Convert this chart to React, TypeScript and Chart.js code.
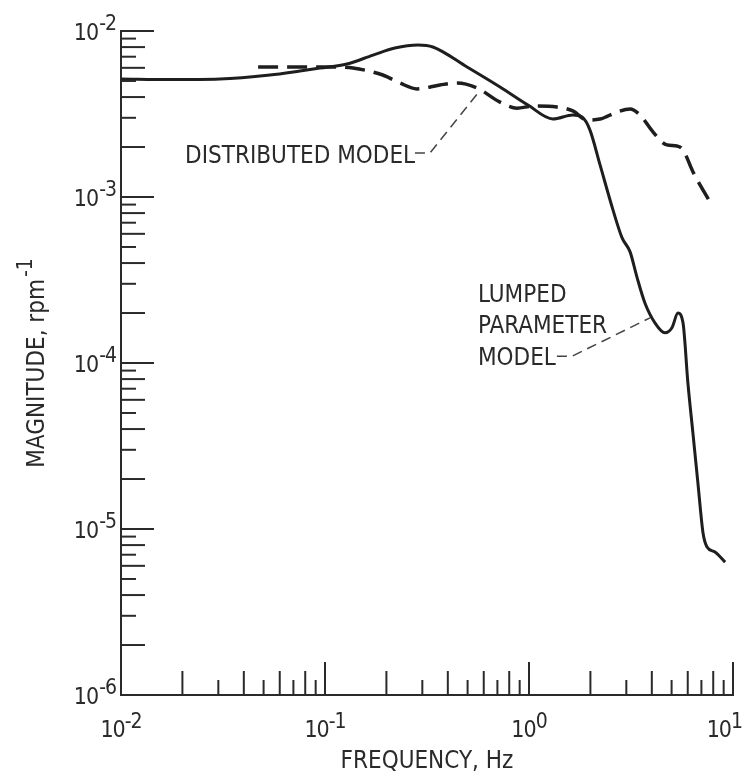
import React, { useEffect, useRef } from "react";
import { Chart, registerables } from "chart.js";

Chart.register(...registerables);

// ---- data (frequency in Hz, magnitude in rpm^-1) ----
const lumpedFreq = [
  0.01, 0.0174, 0.0305, 0.0537, 0.0753, 0.0944, 0.128, 0.172, 0.22, 0.286, 0.338,
  0.497, 0.721, 0.989, 1.31, 1.64, 1.82, 1.99, 2.23, 2.58, 2.86, 3.13, 3.38, 3.7,
  4.15, 4.64, 5.02, 5.37, 5.69, 6.01, 6.36, 6.73, 7.13, 7.46, 8.16, 9.15,
];
const lumpedMag = [
  5.14e-3, 5.1e-3, 5.14e-3, 5.43e-3, 5.74e-3, 5.98e-3, 6.32e-3, 7.16e-3, 7.9e-3, 8.24e-3, 8.01e-3,
  6.07e-3, 4.6e-3, 3.58e-3, 2.95e-3, 3.12e-3, 3.03e-3, 2.53e-3, 1.56e-3, 8.36e-4, 5.67e-4, 4.67e-4,
  3.3e-4, 2.3e-4, 1.74e-4, 1.52e-4, 1.63e-4, 2.0e-4, 1.74e-4, 7.59e-5, 3.79e-5, 1.89e-5, 9.46e-6,
  7.79e-6, 7.27e-6, 6.32e-6,
];
const distFreq = [
  0.047, 0.0753, 0.106, 0.137, 0.192, 0.233, 0.282, 0.366, 0.444, 0.556, 0.721, 0.873, 1.05,
  1.37, 1.64, 1.92, 2.23, 2.7, 3.13, 3.5, 4.05, 4.74, 5.31, 5.69, 6.36, 7.71,
];
const distMag = [
  6.07e-3, 6.07e-3, 6.07e-3, 5.98e-3, 5.43e-3, 4.86e-3, 4.48e-3, 4.73e-3, 4.86e-3, 4.54e-3,
  3.73e-3, 3.43e-3, 3.53e-3, 3.48e-3, 3.3e-3, 2.91e-3, 2.95e-3, 3.25e-3, 3.39e-3, 3.12e-3,
  2.47e-3, 2.06e-3, 2.03e-3, 1.92e-3, 1.42e-3, 9.33e-4,
];

// axis ranges and decade tick exponents
const X_MIN = 0.01;
const X_MAX = 10;
const Y_MIN = 1e-6;
const Y_MAX = 1e-2;
const xDecades = [-2, -1, 0, 1];
const yDecades = [-6, -5, -4, -3, -2];
const minorMults = [2, 3, 4, 5, 6, 7, 8, 9];

// text
const xTitle = "FREQUENCY, Hz";
const yTitle = "MAGNITUDE, rpm";
const yTitleExp = "-1";
const distLabel = "DISTRIBUTED MODEL";
const distLabelAt = [0.0206, 1.6e-3];
const distLeaderX = [0.276, 0.327, 0.562];
const distLeaderY = [1.84e-3, 1.84e-3, 4.23e-3];
const lumpedLabel = ["LUMPED", "PARAMETER", "MODEL"];
const lumpedLabelX = 0.562;
const lumpedLabelY = [2.33e-4, 1.52e-4, 9.72e-5];
const lumpedLeaderX = [1.37, 1.63, 3.92];
const lumpedLeaderY = [1.1e-4, 1.1e-4, 1.87e-4];

const INK = "#2a2a2a";
const FAMILY = "'DejaVu Sans Condensed', 'DejaVu Sans', sans-serif";

const decorPlugin = {
  id: "decor",
  afterDraw(chart: any) {
    const { ctx, chartArea } = chart;
    const xs = chart.scales.x;
    const ys = chart.scales.y;
    const { left, right, top, bottom } = chartArea;
    ctx.save();
    ctx.strokeStyle = INK;
    ctx.fillStyle = INK;
    ctx.lineWidth = 2;
    ctx.lineCap = "butt";
    const lenFor = (m: number) => (m === 1 ? 33 : m % 2 === 0 ? 24 : 15);

    // x ticks (inward, upward)
    for (const e of xDecades) {
      const mults = [1, ...minorMults];
      for (const m of mults) {
        const v = m * Math.pow(10, e);
        if (v < X_MIN * 1.0001 || v > X_MAX * 1.0001) continue;
        const px = xs.getPixelForValue(v);
        ctx.beginPath();
        ctx.moveTo(px, bottom);
        ctx.lineTo(px, bottom - lenFor(m));
        ctx.stroke();
      }
    }
    // y ticks (inward, rightward)
    for (const e of yDecades) {
      const mults = [1, ...minorMults];
      for (const m of mults) {
        const v = m * Math.pow(10, e);
        if (v < Y_MIN * 1.0001 || v > Y_MAX * 1.0001) continue;
        const py = ys.getPixelForValue(v);
        ctx.beginPath();
        ctx.moveTo(left, py);
        ctx.lineTo(left + lenFor(m), py);
        ctx.stroke();
      }
    }

    const baseFont = `23px ${FAMILY}`;
    const expFont = `21px ${FAMILY}`;
    ctx.textBaseline = "alphabetic";
    try { (ctx as any).letterSpacing = "-1px"; } catch (err) { /* ignore */ }

    // y tick labels
    for (const e of yDecades) {
      const py = ys.getPixelForValue(Math.pow(10, e));
      const exp = String(e);
      ctx.font = expFont;
      const w2 = ctx.measureText(exp).width;
      ctx.textAlign = "right";
      ctx.fillText(exp, left - 5, py - 1);
      ctx.font = baseFont;
      ctx.fillText("10", left - 6 - w2, py + 9);
    }
    // x tick labels
    for (const e of xDecades) {
      const px = xs.getPixelForValue(Math.pow(10, e));
      const exp = String(e);
      ctx.font = baseFont;
      const w1 = ctx.measureText("10").width;
      ctx.font = expFont;
      const w2 = ctx.measureText(exp).width;
      let start = px - (w1 + w2) / 2;
      if (start + w1 + w2 > right + 9) start = right + 9 - w1 - w2;
      ctx.textAlign = "left";
      ctx.font = baseFont;
      ctx.fillText("10", start, bottom + 42);
      ctx.font = expFont;
      ctx.fillText(exp, start + w1, bottom + 33);
    }
    try { (ctx as any).letterSpacing = "0px"; } catch (err) { /* ignore */ }

    // x title
    ctx.font = `24px ${FAMILY}`;
    ctx.textAlign = "center";
    ctx.fillText(xTitle, (left + right) / 2, bottom + 73);

    // y title (rotated)
    ctx.save();
    ctx.font = `24px ${FAMILY}`;
    const tw = ctx.measureText(yTitle).width;
    ctx.font = `21px ${FAMILY}`;
    const ew = ctx.measureText(yTitleExp).width;
    ctx.translate(left - 77, (top + bottom) / 2);
    ctx.rotate(-Math.PI / 2);
    ctx.textAlign = "left";
    const s = -(tw + ew + 2) / 2;
    ctx.font = `24px ${FAMILY}`;
    ctx.fillText(yTitle, s, 0);
    ctx.font = `21px ${FAMILY}`;
    ctx.fillText(yTitleExp, s + tw + 2, -12);
    ctx.restore();

    // annotations
    ctx.font = `24px ${FAMILY}`;
    ctx.textAlign = "left";
    ctx.fillText(distLabel, xs.getPixelForValue(distLabelAt[0]), ys.getPixelForValue(distLabelAt[1]));
    lumpedLabel.forEach((t, i) => {
      ctx.fillText(t, xs.getPixelForValue(lumpedLabelX), ys.getPixelForValue(lumpedLabelY[i]));
    });

    ctx.lineWidth = 1.5;
    ctx.strokeStyle = "#444";
    ctx.setLineDash([10, 6]);
    const leader = (lx: number[], ly: number[]) => {
      ctx.beginPath();
      lx.forEach((v, i) => {
        const px = xs.getPixelForValue(v);
        const py = ys.getPixelForValue(ly[i]);
        if (i === 0) ctx.moveTo(px, py);
        else ctx.lineTo(px, py);
      });
      ctx.stroke();
    };
    leader(distLeaderX, distLeaderY);
    leader(lumpedLeaderX, lumpedLeaderY);
    ctx.restore();
  },
};

export default function App() {
  const ref = useRef<HTMLCanvasElement | null>(null);
  useEffect(() => {
    if (!ref.current) return;
    const chart = new Chart(ref.current, {
      type: "line",
      data: {
        datasets: [
          {
            label: "Lumped parameter model",
            data: lumpedFreq.map((f, i) => ({ x: f, y: lumpedMag[i] })),
            borderColor: "#1e1e1e",
            borderWidth: 3,
            pointRadius: 0,
            fill: false,
            cubicInterpolationMode: "monotone",
          },
          {
            label: "Distributed model",
            data: distFreq.map((f, i) => ({ x: f, y: distMag[i] })),
            borderColor: "#1e1e1e",
            borderWidth: 3.5,
            borderDash: [20, 9],
            pointRadius: 0,
            fill: false,
            cubicInterpolationMode: "monotone",
          },
        ],
      },
      options: {
        animation: false,
        responsive: false,
        maintainAspectRatio: false,
        layout: { padding: { left: 113, top: 23, right: 18, bottom: 78 } },
        plugins: { legend: { display: false }, tooltip: { enabled: false } },
        scales: {
          x: {
            type: "logarithmic",
            min: X_MIN,
            max: X_MAX,
            grid: { display: false, drawTicks: false, tickLength: 0 },
            ticks: { display: false },
            border: { display: true, color: INK, width: 2 },
          },
          y: {
            type: "logarithmic",
            min: Y_MIN,
            max: Y_MAX,
            grid: { display: false, drawTicks: false, tickLength: 0 },
            ticks: { display: false },
            border: { display: true, color: INK, width: 2 },
          },
        },
      },
      plugins: [decorPlugin],
    });
    return () => chart.destroy();
  }, []);
  return (
    <div style={{ width: 735, height: 765, overflow: "visible" }}>
      <canvas ref={ref} width={743} height={765} style={{ display: "block", width: 743, height: 765 }} />
    </div>
  );
}
